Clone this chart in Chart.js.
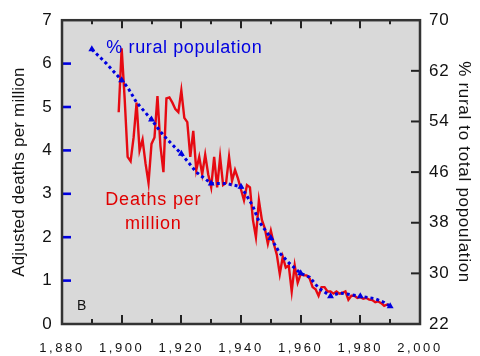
<!DOCTYPE html>
<html><head><meta charset="utf-8">
<style>html,body{margin:0;padding:0;background:#fff;}#wrap{width:480px;height:356px;position:relative;}</style>
<script src="https://cdn.jsdelivr.net/npm/chart.js@4.4.1/dist/chart.umd.min.js"></script>
</head><body><div id="wrap"><canvas id="c" width="480" height="356"></canvas></div>
<script>
// ---- data ----
const deathYears = [1899,1900,1901,1902,1903,1904,1905,1906,1907,1908,1909,1910,1911,1912,1913,1914,1915,1916,1917,1918,1919,1920,1921,1922,1923,1924,1925,1926,1927,1928,1929,1930,1931,1932,1933,1934,1935,1936,1937,1938,1939,1940,1941,1942,1943,1944,1945,1946,1947,1948,1949,1950,1951,1952,1953,1954,1955,1956,1957,1958,1959,1960,1961,1962,1963,1964,1965,1966,1967,1968,1969,1970,1971,1972,1973,1974,1975,1976,1977,1978,1979,1980,1981,1982,1983,1984,1985,1986,1987,1988,1989,1990];
const deathsPerMillion = [4.88,6.35,5.2,3.85,3.75,4.3,5.1,4.0,4.25,3.7,3.25,4.15,4.3,5.25,4.1,3.5,5.2,5.22,5.1,4.95,4.88,5.38,4.75,4.65,3.85,4.45,3.55,3.85,3.45,3.9,3.45,3.15,3.85,3.15,3.85,3.2,3.25,3.85,3.3,3.55,3.35,3.1,2.85,3.2,3.15,2.4,2.0,2.85,2.4,2.2,1.85,2.15,1.85,1.6,1.15,1.55,1.3,1.35,0.75,1.35,0.95,1.15,1.12,1.12,1.05,0.85,0.8,0.65,0.85,0.85,0.75,0.75,0.7,0.75,0.7,0.72,0.75,0.56,0.65,0.65,0.6,0.62,0.58,0.6,0.56,0.55,0.5,0.52,0.48,0.42,0.45,0.42];
const ruralYears = [1890,1895,1900,1902,1905,1910,1913,1915,1920,1925,1930,1935,1940,1942,1944,1946,1948,1950,1953,1956,1960,1963,1966,1970,1973,1976,1980,1985,1988,1990];
const ruralPercent = [65.4,63.1,60.5,59.4,57.0,54.3,52.4,51.3,48.9,46.0,44.2,44.2,43.7,42.2,40.6,38.2,36.9,35.6,33.2,31.7,30.0,29.4,27.7,26.4,26.9,26.7,26.4,26.0,25.4,24.8];
const censusYears = [1890,1900,1910,1920,1930,1940,1950,1960,1970,1980,1990];
const xTicks = [1880,1900,1920,1940,1960,1980,2000];
const leftTicks = [0,1,2,3,4,5,6,7];
const rightTicks = [22,30,38,46,54,62,70];
const leftTitle = 'Adjusted deaths per million';
const rightTitle = '% rural to total popoulation';
const notes = [
  {text:'% rural population', x:1921, y:6.24, color:'#0000e0', size:18, spacing:'0.6px'},
  {text:'Deaths per', x:1910.6, y:2.74, color:'#e00000', size:18, spacing:'0.8px'},
  {text:'million', x:1910.6, y:2.18, color:'#e00000', size:18, spacing:'0.8px'},
  {text:'B', x:1886.6, y:0.32, color:'#111', size:14, spacing:'0px'}
];

const FONT = "'Liberation Sans', Arial, sans-serif";
const BLUE = '#0000e0', RED = '#e60a12';

const spacing = {x:'2.6px', y:'0.2px', y1:'0.7px'};
const spacingPlugin = {
  id:'spacing',
  beforeDraw(chart){
    for (const id in spacing){
      const s = chart.scales[id];
      if (!s || s.__ls) continue;
      const dl = s.drawLabels, dt = s.drawTitle;
      s.drawLabels = function(a){ const c=this.ctx; c.save(); c.letterSpacing=spacing[id]; dl.call(this,a); c.restore(); };
      s.drawTitle = function(a){ const c=this.ctx; c.save(); c.letterSpacing=spacing[id]; dt.call(this,a); c.restore(); };
      s.__ls = true;
    }
  }
};

const framePlugin = {
  id:'frame',
  beforeDraw(chart){
    const {ctx, chartArea:a} = chart;
    ctx.save(); ctx.fillStyle='#d9d9d9';
    ctx.fillRect(a.left,a.top,a.right-a.left,a.bottom-a.top); ctx.restore();
  },
  afterDatasetsDraw(chart){
    const {ctx, chartArea:a, scales:{x,y,y1}} = chart;
    ctx.save();
    ctx.lineCap='butt';
    ctx.strokeStyle='#222'; ctx.lineWidth=2;
    const xs = x.ticks.map(t=>t.value);
    const line=(x1,y1_,x2,y2)=>{ctx.beginPath();ctx.moveTo(x1,y1_);ctx.lineTo(x2,y2);ctx.stroke();};
    for (let i=0;i<xs.length;i++){
      const v=xs[i];
      if (v>x.min && v<x.max){ const p=Math.round(x.getPixelForValue(v)); line(p,a.bottom,p,a.bottom-9); line(p,a.top,p,a.top+8); }
      if (i<xs.length-1){ const p=Math.round(x.getPixelForValue((xs[i]+xs[i+1])/2)); line(p,a.bottom,p,a.bottom-5); line(p,a.top,p,a.top+4); }
    }
    ctx.strokeStyle=BLUE; ctx.lineWidth=2.6;
    y.ticks.forEach(t=>{ if(t.value>y.min&&t.value<y.max){ const p=y.getPixelForValue(t.value); line(a.left,p,a.left+9,p);} });
    ctx.strokeStyle='#222'; ctx.lineWidth=2;
    y1.ticks.forEach(t=>{ if(t.value>y1.min&&t.value<y1.max){ const p=y1.getPixelForValue(t.value); line(a.right,p,a.right-9,p);} });
    ctx.strokeStyle='#333'; ctx.lineWidth=2.5;
    ctx.strokeRect(a.left,a.top,a.right-a.left,a.bottom-a.top);
    notes.forEach(n=>{
      ctx.font = n.size+'px '+FONT; ctx.fillStyle=n.color; ctx.textAlign='center'; ctx.textBaseline='alphabetic';
      ctx.letterSpacing = n.spacing;
      ctx.fillText(n.text, x.getPixelForValue(n.x), y.getPixelForValue(n.y));
    });
    ctx.restore();
  }
};

new Chart(document.getElementById('c'), {
  type:'line',
  data:{
    datasets:[
      { label:'% rural population', yAxisID:'y1',
        data: ruralYears.map((yr,i)=>({x:yr,y:ruralPercent[i]})),
        borderColor:BLUE, backgroundColor:BLUE, borderWidth:3, borderDash:[3,3],
        pointStyle:'triangle', pointRadius: c=>censusYears.includes(ruralYears[c.dataIndex])?4:0,
        pointBorderWidth:0, fill:false, tension:0 },
      { label:'Deaths per million', yAxisID:'y',
        data: deathYears.map((yr,i)=>({x:yr,y:deathsPerMillion[i]})),
        borderColor:RED, borderWidth:2.4, pointRadius:0, fill:false, tension:0 }
    ]
  },
  options:{
    responsive:false, animation:false, devicePixelRatio:1,
    layout:{padding:{top:12,left:0,right:0,bottom:0}},
    plugins:{legend:{display:false}, tooltip:{enabled:false}},
    scales:{
      x:{ type:'linear', position:'bottom', min:1880, max:2000,
        afterBuildTicks: s=>{ s.ticks = xTicks.map(v=>({value:v})); },
        afterFit: s=>{ s.height = 32; },
        grid:{display:false, drawTicks:false}, border:{display:false},
        ticks:{ padding:17, color:'#111', font:{family:FONT,size:13}, maxRotation:0, autoSkip:false } },
      y:{ type:'linear', position:'left', min:0, max:7,
        afterBuildTicks: s=>{ s.ticks = leftTicks.map(v=>({value:v})); },
        afterFit: s=>{ s.width = 62; },
        grid:{display:false, drawTicks:false}, border:{display:false},
        ticks:{ padding:10, color:'#111', font:{family:FONT,size:17} },
        title:{ display:true, text:leftTitle, color:'#111', font:{family:FONT,size:17}, padding:{top:9,bottom:0} } },
      y1:{ type:'linear', position:'right', min:22, max:70,
        afterBuildTicks: s=>{ s.ticks = rightTicks.map(v=>({value:v})); },
        afterFit: s=>{ s.width = 60; },
        grid:{display:false, drawTicks:false}, border:{display:false},
        ticks:{ padding:9, color:'#111', font:{family:FONT,size:17} },
        title:{ display:true, text:rightTitle, color:'#111', font:{family:FONT,size:17}, padding:{top:6,bottom:0} } }
    }
  },
  plugins:[spacingPlugin, framePlugin]
});
</script></body></html>
